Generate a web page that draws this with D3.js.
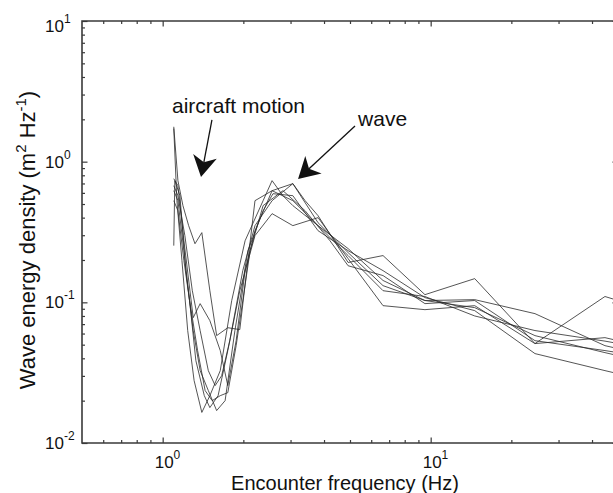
<!DOCTYPE html>
<html>
<head>
<meta charset="utf-8">
<script src="https://cdn.jsdelivr.net/npm/d3@7"></script>
<style>
  body { margin: 0; background: #fff; }
  text { font-family: Helvetica, Arial, "Liberation Sans", sans-serif; fill: #111; }
</style>
</head>
<body>
<svg id="chart" width="613" height="493"></svg>
<script>
// Encounter-frequency spectra, one pair of arrays per flight leg (Hz, m^2 Hz^-1)
const freq1 = [1.10,1.14,1.19,1.25,1.32,1.40,1.50,1.59,1.75,1.94,2.21,2.56,3.06,3.80,4.92,6.64,9.52,14.6,24.5,44.7,50];
const psd1  = [1.77,0.733,0.487,0.351,0.261,0.313,0.121,0.058,0.066,0.064,0.528,0.622,0.528,0.351,0.215,0.121,0.110,0.080,0.063,0.053,0.051];

const freq2 = [1.10,1.13,1.18,1.24,1.31,1.40,1.50,1.64,1.81,2.03,2.37,2.56,2.81,3.06,3.80,4.92,6.64,9.52,14.6,24.5,44.7,50];
const psd2  = [1.72,0.528,0.198,0.0629,0.0278,0.0165,0.0217,0.0327,0.103,0.274,0.528,0.733,0.573,0.487,0.351,0.241,0.143,0.103,0.1045,0.0831,0.0492,0.0469];

const freq3 = [1.10,1.14,1.20,1.30,1.38,1.50,1.64,1.75,1.88,2.03,2.21,2.56,3.06,3.40,3.80,4.92,6.64,9.52,14.6,24.5,44.7,50];
const psd3  = [0.757,0.675,0.274,0.0778,0.0979,0.0741,0.0454,0.0256,0.0534,0.168,0.323,0.622,0.698,0.528,0.413,0.192,0.215,0.1134,0.1474,0.0509,0.110,0.103];

const freq4 = [1.10,1.14,1.20,1.26,1.33,1.43,1.50,1.61,1.75,1.94,2.21,2.56,3.06,3.80,4.92,6.64,9.52,14.6,24.5,44.7,50];
const psd4  = [0.622,0.528,0.233,0.103,0.0385,0.0217,0.01785,0.0217,0.0454,0.121,0.298,0.427,0.351,0.400,0.2045,0.0947,0.0887,0.0947,0.0509,0.0561,0.0534];

const freq5 = [1.10,1.11,1.16,1.22,1.30,1.38,1.48,1.59,1.71,1.86,2.08,2.37,2.58,3.06,3.80,4.92,6.64,9.52,14.6,24.5,44.7,50];
const psd5  = [0.253,0.733,0.573,0.168,0.0629,0.0327,0.0236,0.0170,0.0200,0.0629,0.233,0.448,0.592,0.573,0.323,0.233,0.168,0.108,0.0873,0.0432,0.0327,0.0311];

const freq6 = [1.10,1.14,1.20,1.26,1.35,1.44,1.53,1.64,1.75,1.88,2.12,2.37,2.81,3.40,4.21,4.92,6.64,9.52,14.6,24.5,44.7,50];
const psd6  = [0.528,0.448,0.198,0.103,0.0454,0.0236,0.0200,0.0217,0.0228,0.0492,0.233,0.487,0.622,0.448,0.274,0.182,0.155,0.0979,0.103,0.0534,0.0454,0.0439];

const freq7 = [1.10,1.14,1.21,1.29,1.38,1.48,1.57,1.66,1.78,1.99,2.21,2.56,3.06,3.80,4.92,6.64,9.52,14.6,24.5,44.7,50];
const psd7  = [0.675,0.573,0.298,0.121,0.0629,0.0327,0.0256,0.0301,0.0534,0.168,0.351,0.528,0.698,0.368,0.2256,0.1314,0.103,0.0917,0.0580,0.0439,0.0418];

const freqSeries = [freq1, freq2, freq3, freq4, freq5, freq6, freq7];
const psdSeries  = [psd1, psd2, psd3, psd4, psd5, psd6, psd7];

// Axis decades and labelled ticks
const xDomain = [0.5, 50];
const yDomain = [0.01, 10];
const xMajorTicks = [1, 10];
const xMajorExps  = ["0", "1"];
const yMajorTicks = [0.01, 0.1, 1, 10];
const yMajorExps  = ["-2", "-1", "0", "1"];

// Annotation anchors in data units: [text x, text y], arrow [from, to]
const motionLabel = "aircraft motion";
const motionText  = [1.083, 2.21];
const motionArrow = [[1.527, 1.98], [1.390, 0.778]];
const waveLabel   = "wave";
const waveText    = [5.36, 1.78];
const waveArrow   = [[5.22, 1.79], [3.20, 0.753]];

const svg = d3.select("#chart");
const plot = { left: 82, right: 618, top: 21, bottom: 443 };

const x = d3.scaleLog().domain(xDomain).range([plot.left, plot.right]);
const y = d3.scaleLog().domain(yDomain).range([plot.bottom, plot.top]);

svg.append("rect").attr("width", 613).attr("height", 493).attr("fill", "#fff");

svg.append("clipPath").attr("id", "plotClip")
  .append("rect")
  .attr("x", plot.left).attr("y", plot.top)
  .attr("width", plot.right - plot.left).attr("height", plot.bottom - plot.top);

// Spectra
const line = d3.line().x(d => x(d[0])).y(d => y(d[1]));
const gLines = svg.append("g").attr("clip-path", "url(#plotClip)");
freqSeries.forEach((fs, i) => {
  const pts = fs.map((f, j) => [f, psdSeries[i][j]]);
  gLines.append("path")
    .attr("d", line(pts))
    .attr("fill", "none")
    .attr("stroke", "#2a2a2a")
    .attr("stroke-width", 0.8)
    .attr("stroke-linejoin", "miter");
});

// Minor tick positions from the scales
function minorTicks(scale) {
  const [a, b] = scale.domain();
  const out = [];
  for (let e = Math.floor(Math.log10(a)); e <= Math.ceil(Math.log10(b)); e++) {
    for (let k = 2; k <= 9; k++) {
      const v = k * Math.pow(10, e);
      if (v > a && v < b) out.push(v);
    }
  }
  return out;
}
const xMinor = minorTicks(x);
const yMinor = minorTicks(y);

const axisStroke = "#3a3a3a";
function styleAxis(g) {
  g.select(".domain").remove();
  g.selectAll("line").attr("stroke", axisStroke).attr("stroke-width", 1.2);
  g.selectAll("text").remove();
}

// Inward ticks on all four sides
const major = 5.5, minor = 3;
svg.append("g").attr("transform", `translate(0,${plot.bottom})`)
  .call(d3.axisBottom(x).tickValues(xMinor).tickSize(-minor).tickFormat("")).call(styleAxis);
svg.append("g").attr("transform", `translate(0,${plot.bottom})`)
  .call(d3.axisBottom(x).tickValues(xMajorTicks).tickSize(-major).tickFormat("")).call(styleAxis);
svg.append("g").attr("transform", `translate(0,${plot.top})`)
  .call(d3.axisTop(x).tickValues(xMinor).tickSize(-minor).tickFormat("")).call(styleAxis);
svg.append("g").attr("transform", `translate(0,${plot.top})`)
  .call(d3.axisTop(x).tickValues(xMajorTicks).tickSize(-major).tickFormat("")).call(styleAxis);
svg.append("g").attr("transform", `translate(${plot.left},0)`)
  .call(d3.axisLeft(y).tickValues(yMinor).tickSize(-minor).tickFormat("")).call(styleAxis);
svg.append("g").attr("transform", `translate(${plot.left},0)`)
  .call(d3.axisLeft(y).tickValues(yMajorTicks).tickSize(-major).tickFormat("")).call(styleAxis);
svg.append("g").attr("transform", `translate(${plot.right},0)`)
  .call(d3.axisRight(y).tickValues(yMinor).tickSize(-minor).tickFormat("")).call(styleAxis);
svg.append("g").attr("transform", `translate(${plot.right},0)`)
  .call(d3.axisRight(y).tickValues(yMajorTicks).tickSize(-major).tickFormat("")).call(styleAxis);

// Frame
svg.append("path")
  .attr("d", `M${plot.left},${plot.bottom}H${plot.right}V${plot.top}H${plot.left}Z`)
  .attr("fill", "none").attr("stroke", axisStroke).attr("stroke-width", 1.6);

// Tick labels as powers of ten
xMajorTicks.forEach((v, i) => {
  const t = svg.append("text")
    .attr("x", x(v) - 8).attr("y", 468)
    .attr("font-size", 17);
  t.append("tspan").text("10");
  t.append("tspan").attr("font-size", 12).attr("dy", -9).text(xMajorExps[i]);
});
yMajorTicks.forEach((v, i) => {
  const t = svg.append("text")
    .attr("x", 45).attr("y", Math.max(y(v) + 6, 32))
    .attr("font-size", 17);
  t.append("tspan").text("10");
  t.append("tspan").attr("font-size", 12).attr("dy", -9).text(yMajorExps[i]);
});

// Axis titles
svg.append("text")
  .attr("x", 345).attr("y", 490)
  .attr("text-anchor", "middle")
  .attr("font-size", 20)
  .text("Encounter frequency (Hz)");

const yl = svg.append("text")
  .attr("transform", "translate(35,240) rotate(-90)")
  .attr("text-anchor", "middle")
  .attr("font-size", 22);
yl.append("tspan").text("Wave energy density (m");
yl.append("tspan").attr("font-size", 15).attr("dy", -9).text("2");
yl.append("tspan").attr("dy", 9).text(" Hz");
yl.append("tspan").attr("font-size", 15).attr("dy", -9).text("-1");
yl.append("tspan").attr("dy", 9).text(")");

// Annotations with filled, swept-back arrowheads
function drawArrow(from, to) {
  const x0 = x(from[0]), y0 = y(from[1]), x1 = x(to[0]), y1 = y(to[1]);
  const dx = x1 - x0, dy = y1 - y0, L = Math.hypot(dx, dy);
  const ux = dx / L, uy = dy / L, px = -uy, py = ux;
  const len = 21, hw = 12, notch = 15;
  const bx = x1 - ux * len, by = y1 - uy * len;
  const nx = x1 - ux * notch, ny = y1 - uy * notch;
  svg.append("line")
    .attr("x1", x0).attr("y1", y0).attr("x2", nx).attr("y2", ny)
    .attr("stroke", "#111").attr("stroke-width", 1.3);
  svg.append("path")
    .attr("d", `M${x1},${y1}L${bx + px * hw},${by + py * hw}L${nx},${ny}L${bx - px * hw},${by - py * hw}Z`)
    .attr("fill", "#111");
}

svg.append("text")
  .attr("x", x(motionText[0])).attr("y", y(motionText[1]))
  .attr("font-size", 21).text(motionLabel);
drawArrow(motionArrow[0], motionArrow[1]);

svg.append("text")
  .attr("x", x(waveText[0])).attr("y", y(waveText[1]))
  .attr("font-size", 21).text(waveLabel);
drawArrow(waveArrow[0], waveArrow[1]);
</script>
</body>
</html>
